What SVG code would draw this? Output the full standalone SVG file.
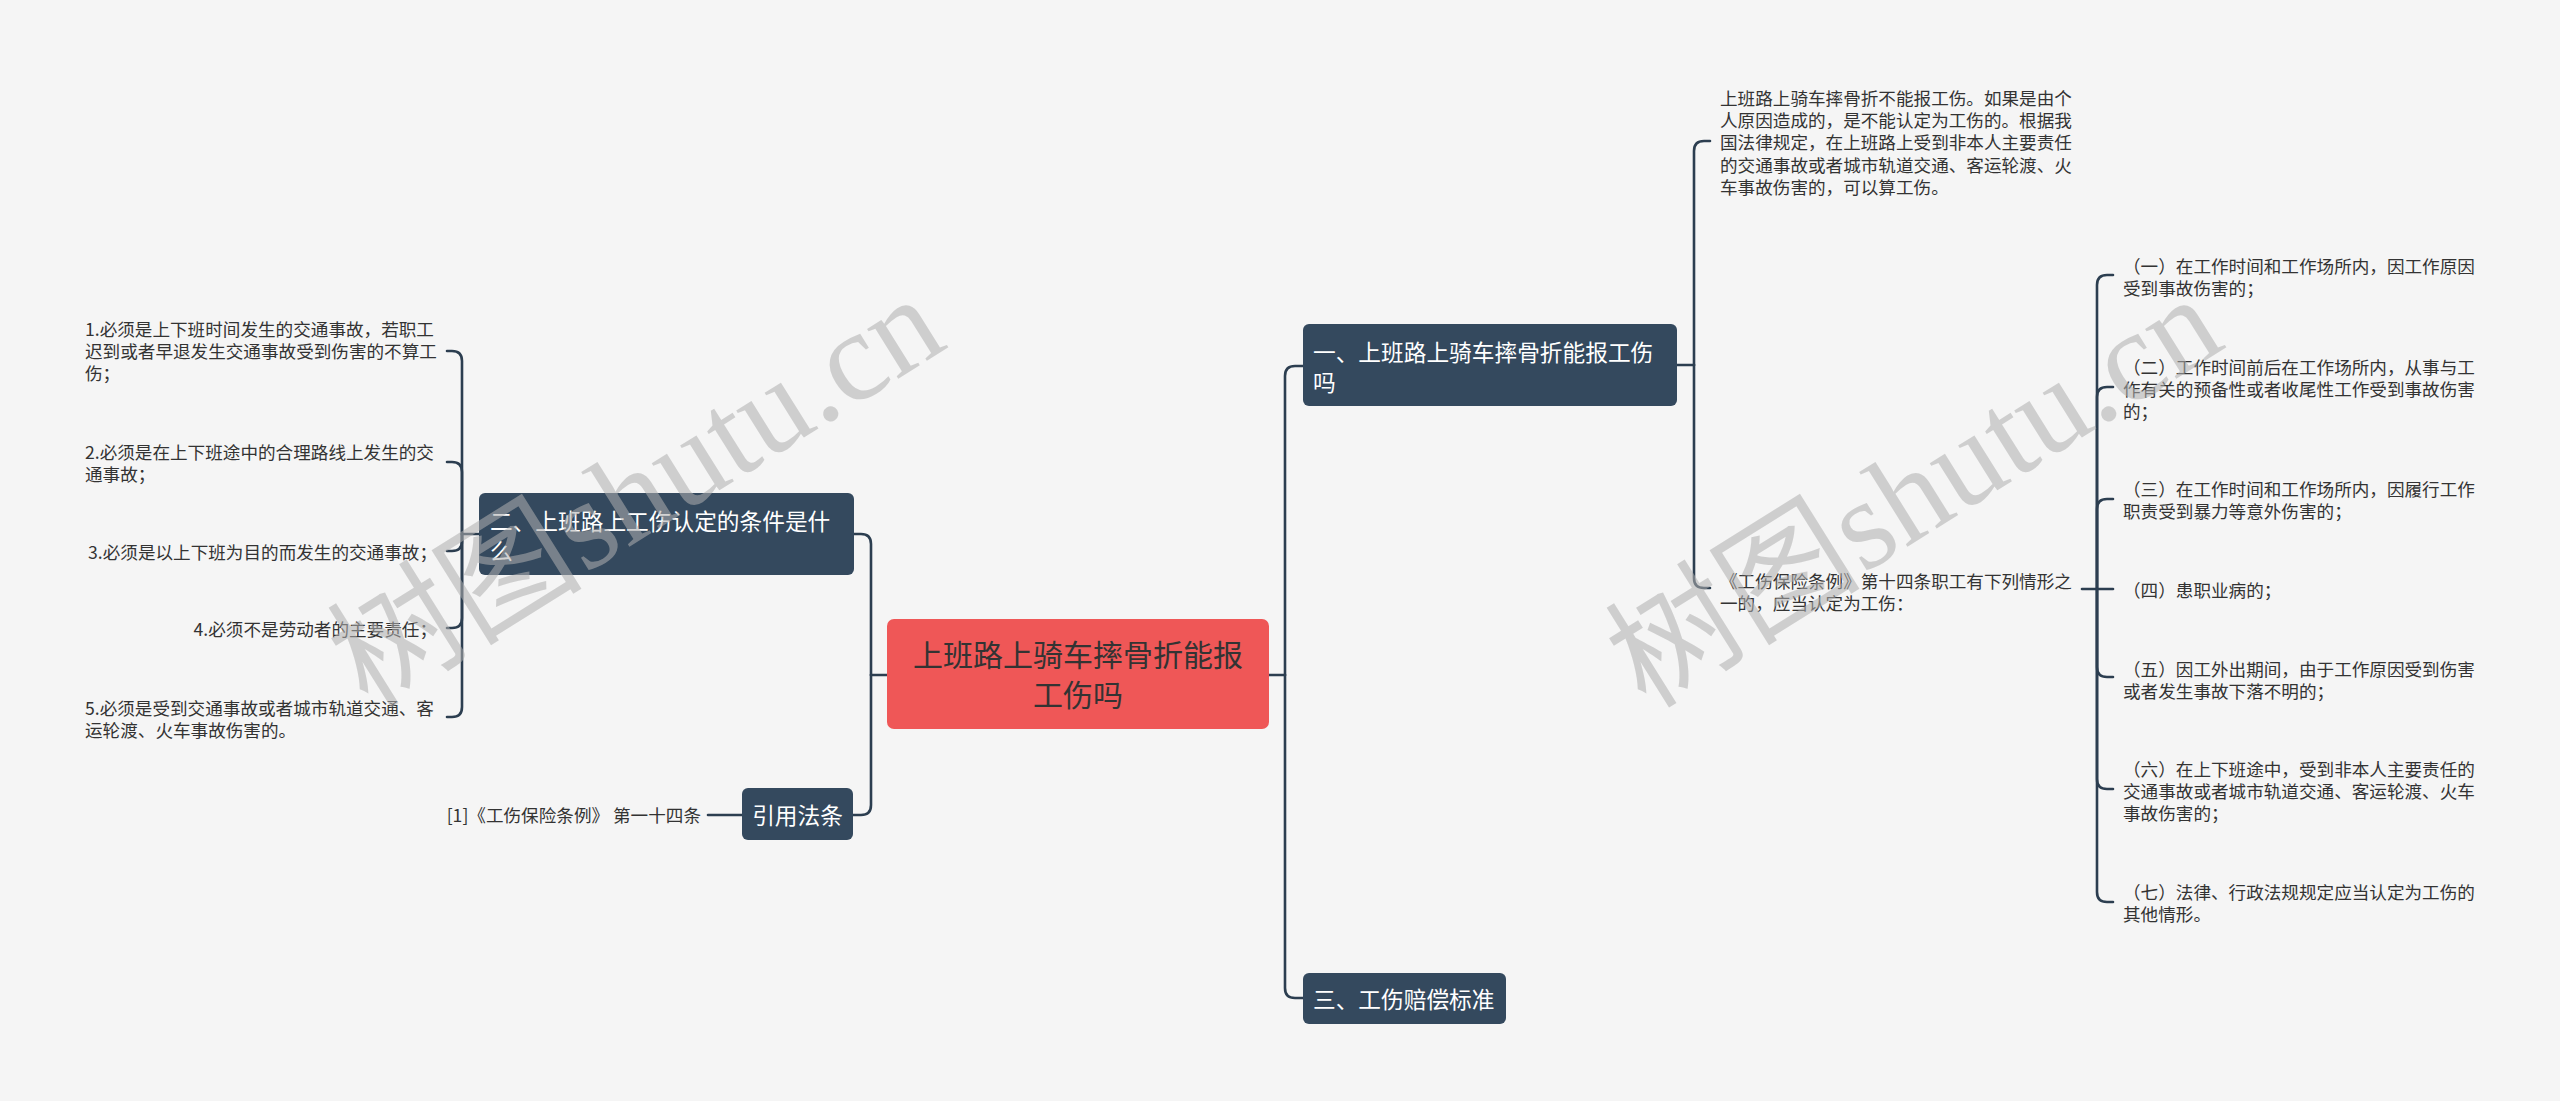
<svg xmlns="http://www.w3.org/2000/svg" width="2560" height="1101" viewBox="0 0 2560 1101">
<style>
.bg{fill:#f5f5f5}
.conn path{fill:none;stroke:#2c3e50;stroke-width:2.6;stroke-linecap:round}
.box{fill:#34495e}
.root{fill:#ef5757}
.nt{font-family:"Noto Sans CJK SC","Liberation Sans",sans-serif;font-size:22.7px;fill:#ffffff}
.rt{font-family:"Noto Sans CJK SC","Liberation Sans",sans-serif;font-size:30px;fill:#333333;text-anchor:middle}
.lt{font-family:"Noto Sans CJK SC","Liberation Sans",sans-serif;font-size:17.6px;fill:#333333}
.end{text-anchor:end}
.wm{font-family:"Liberation Serif","Noto Sans CJK SC",serif;font-size:128px;fill:#b0b0b0;opacity:0.55}
</style>
<rect class="bg" x="0" y="0" width="2560" height="1101"/>

<g id="connectors" class="conn">
  <path d="M887 675 H871"/>
  <path d="M871 675 V544 Q871 534 861 534 H854"/>
  <path d="M871 675 V805 Q871 815 861 815 H853"/>
  <path d="M1269 675 H1285"/>
  <path d="M1285 675 V376 Q1285 366 1295 366 H1303"/>
  <path d="M1285 675 V988 Q1285 998 1295 998 H1303"/>
  <path d="M1677 365 H1694"/>
  <path d="M1694 365 V151 Q1694 141 1704 141 H1710"/>
  <path d="M1694 365 V578 Q1694 588 1704 588 H1710"/>
  <path d="M479 534 H462"/>
  <path d="M462 534 V361 Q462 351 452 351 H447"/>
  <path d="M462 534 V472 Q462 462 452 462 H447"/>
  <path d="M462 534 V541 Q462 551 452 551 H447"/>
  <path d="M462 534 V618 Q462 628 452 628 H447"/>
  <path d="M462 534 V707 Q462 717 452 717 H447"/>
  <path d="M742 815 H708"/>
  <path d="M2082 589 H2113"/>
  <path d="M2097 589 V285 Q2097 275 2107 275 H2113"/>
  <path d="M2097 589 V397 Q2097 387 2107 387 H2113"/>
  <path d="M2097 589 V509 Q2097 499 2107 499 H2113"/>
  <path d="M2097 589 V667 Q2097 677 2107 677 H2113"/>
  <path d="M2097 589 V779 Q2097 789 2107 789 H2113"/>
  <path d="M2097 589 V892 Q2097 902 2107 902 H2113"/>
</g>

<g id="root">
  <rect class="root" x="887" y="619" width="382" height="110" rx="7"/>
  <text class="rt" x="1078" y="666.4">上班路上骑车摔骨折能报</text>
  <text class="rt" x="1078" y="706.4">工伤吗</text>
</g>

<g id="n1">
  <rect class="box" x="1303" y="324" width="374" height="82" rx="6"/>
  <text class="nt" x="1313" y="360.6">一、上班路上骑车摔骨折能报工伤</text>
  <text class="nt" x="1313" y="390.6">吗</text>
</g>

<g id="n2">
  <rect class="box" x="479" y="493" width="375" height="82" rx="6"/>
  <text class="nt" x="490" y="529.6">二、上班路上工伤认定的条件是什</text>
  <text class="nt" x="490" y="559.6">么</text>
</g>

<g id="n3">
  <rect class="box" x="1303" y="973" width="203" height="51" rx="6"/>
  <text class="nt" x="1313" y="1007.6">三、工伤赔偿标准</text>
</g>

<g id="n4">
  <rect class="box" x="742" y="788" width="111" height="52" rx="6"/>
  <text class="nt" x="797.5" y="823.6" text-anchor="middle">引用法条</text>
</g>

<g id="leaf-cite">
  <text class="lt end" x="701" y="821.7">[1]《工伤保险条例》 第一十四条</text>
</g>

<g id="leaf-l1">
  <text class="lt" x="85" y="335.7">1.必须是上下班时间发生的交通事故，若职工</text>
  <text class="lt" x="85" y="358">迟到或者早退发生交通事故受到伤害的不算工</text>
  <text class="lt" x="85" y="380.3">伤；</text>
</g>
<g id="leaf-l2">
  <text class="lt" x="85" y="458.7">2.必须是在上下班途中的合理路线上发生的交</text>
  <text class="lt" x="85" y="481">通事故；</text>
</g>
<g id="leaf-l3">
  <text class="lt end" x="437" y="559.2">3.必须是以上下班为目的而发生的交通事故；</text>
</g>
<g id="leaf-l4">
  <text class="lt end" x="437" y="636.2">4.必须不是劳动者的主要责任；</text>
</g>
<g id="leaf-l5">
  <text class="lt" x="85" y="714.7">5.必须是受到交通事故或者城市轨道交通、客</text>
  <text class="lt" x="85" y="737">运轮渡、火车事故伤害的。</text>
</g>

<g id="leaf-r1">
  <text class="lt" x="1720" y="104.7">上班路上骑车摔骨折不能报工伤。如果是由个</text>
  <text class="lt" x="1720" y="127">人原因造成的，是不能认定为工伤的。根据我</text>
  <text class="lt" x="1720" y="149.3">国法律规定，在上班路上受到非本人主要责任</text>
  <text class="lt" x="1720" y="171.6">的交通事故或者城市轨道交通、客运轮渡、火</text>
  <text class="lt" x="1720" y="193.9">车事故伤害的，可以算工伤。</text>
</g>
<g id="leaf-r2">
  <text class="lt" x="1720" y="587.7">《工伤保险条例》第十四条职工有下列情形之</text>
  <text class="lt" x="1720" y="610">一的，应当认定为工伤：</text>
</g>

<g id="item1">
  <text class="lt" x="2123" y="272.7">（一）在工作时间和工作场所内，因工作原因</text>
  <text class="lt" x="2123" y="295">受到事故伤害的；</text>
</g>
<g id="item2">
  <text class="lt" x="2123" y="373.7">（二）工作时间前后在工作场所内，从事与工</text>
  <text class="lt" x="2123" y="396">作有关的预备性或者收尾性工作受到事故伤害</text>
  <text class="lt" x="2123" y="418.3">的；</text>
</g>
<g id="item3">
  <text class="lt" x="2123" y="495.7">（三）在工作时间和工作场所内，因履行工作</text>
  <text class="lt" x="2123" y="518">职责受到暴力等意外伤害的；</text>
</g>
<g id="item4">
  <text class="lt" x="2123" y="596.7">（四）患职业病的；</text>
</g>
<g id="item5">
  <text class="lt" x="2123" y="675.7">（五）因工外出期间，由于工作原因受到伤害</text>
  <text class="lt" x="2123" y="698">或者发生事故下落不明的；</text>
</g>
<g id="item6">
  <text class="lt" x="2123" y="775.7">（六）在上下班途中，受到非本人主要责任的</text>
  <text class="lt" x="2123" y="798">交通事故或者城市轨道交通、客运轮渡、火车</text>
  <text class="lt" x="2123" y="820.3">事故伤害的；</text>
</g>
<g id="item7">
  <text class="lt" x="2123" y="898.7">（七）法律、行政法规规定应当认定为工伤的</text>
  <text class="lt" x="2123" y="921">其他情形。</text>
</g>

<g id="watermarks">
  <text class="wm" x="368" y="710" transform="rotate(-32 368 710)">树图shutu.cn</text>
  <text class="wm" x="1646" y="710" transform="rotate(-32 1646 710)">树图shutu.cn</text>
</g>
</svg>
